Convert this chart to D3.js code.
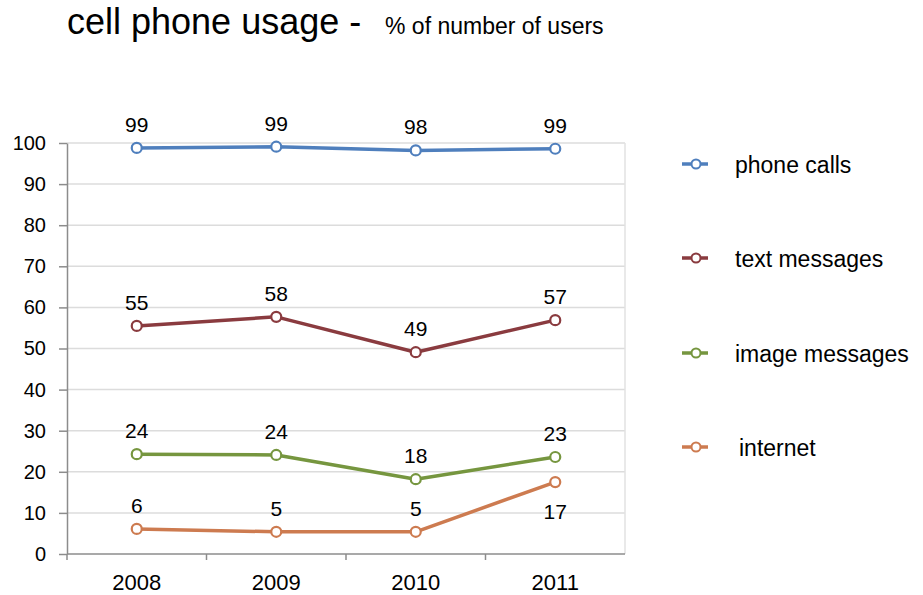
<!DOCTYPE html>
<html>
<head>
<meta charset="utf-8">
<script src="https://cdn.jsdelivr.net/npm/d3@7"></script>
<style>
  body { margin: 0; background: #fff; }
  text { font-family: "Liberation Sans", Arial, Helvetica, sans-serif; }
</style>
</head>
<body>
<svg id="chart" width="923" height="595"></svg>
<script>
// data
let years = ["2008", "2009", "2010", "2011"];
let seriesNames = ["phone calls", "text messages", "image messages", "internet"];
let phoneCalls = [98.8, 99.1, 98.2, 98.6];
let textMessages = [55.5, 57.7, 49.1, 56.9];
let imageMessages = [24.3, 24.1, 18.2, 23.6];
let internet = [6.1, 5.4, 5.4, 17.5];
let phoneLabels = [99, 99, 98, 99];
let textLabels = [55, 58, 49, 57];
let imageLabels = [24, 24, 18, 23];
let internetLabels = [6, 5, 5, 17];
let yTicks = [0, 10, 20, 30, 40, 50, 60, 70, 80, 90, 100];

let colors = ["#4f7fbd", "#8a3b3f", "#76963f", "#cd7b50"];   // blue, dark red, green, orange

let series = [
  {name: seriesNames[0], values: phoneCalls, labels: phoneLabels},
  {name: seriesNames[1], values: textMessages, labels: textLabels},
  {name: seriesNames[2], values: imageMessages, labels: imageLabels},
  {name: seriesNames[3], values: internet, labels: internetLabels}
];

let svg = d3.select("#chart");

// title
svg.append("text")
  .attr("x", 67)
  .attr("y", 34)
  .style("font-size", "36px")
  .attr("fill", "#000")
  .text("cell phone usage -");
svg.append("text")
  .attr("x", 385)
  .attr("y", 34)
  .style("font-size", "23px")
  .attr("fill", "#000")
  .text("% of number of users");

let xScale = d3.scaleBand()
  .domain(years)
  .range([67, 625]);

let yScale = d3.scaleLinear()
  .domain([0, 100])
  .range([554, 143]);

// gridlines
svg.append("g")
  .selectAll("line")
  .data(yTicks.slice(1))
  .join("line")
  .attr("x1", 67)
  .attr("x2", 625)
  .attr("y1", d => yScale(d))
  .attr("y2", d => yScale(d))
  .attr("stroke", "#dcdcdc")
  .attr("stroke-width", 1.5);

// right border of plot
svg.append("line")
  .attr("x1", 625).attr("x2", 625)
  .attr("y1", yScale(100)).attr("y2", yScale(0))
  .attr("stroke", "#e2e2e2")
  .attr("stroke-width", 1.5);

// y axis
let yAxis = svg.append("g")
  .attr("transform", "translate(67,0)")
  .call(d3.axisLeft(yScale)
    .tickValues(yTicks)
    .tickSize(8)
    .tickPadding(13)
    .tickSizeOuter(0));
yAxis.select(".domain").attr("stroke", "#8c8c8c").attr("stroke-width", 1.5);
yAxis.selectAll(".tick line").attr("stroke", "#8c8c8c").attr("stroke-width", 1.5);
yAxis.selectAll(".tick text")
  .style("font-family", "'Liberation Sans', Arial, sans-serif")
  .style("font-size", "20px")
  .attr("fill", "#000");

// x axis: ticks at band boundaries
let xAxis = svg.append("g")
  .attr("transform", "translate(0,554)");
xAxis.append("line")
  .attr("x1", 67).attr("x2", 625)
  .attr("stroke", "#8c8c8c").attr("stroke-width", 1.5);
xAxis.selectAll(".xtick")
  .data(years)
  .join("line")
  .attr("class", "xtick")
  .attr("x1", d => xScale(d))
  .attr("x2", d => xScale(d))
  .attr("y1", 0).attr("y2", 6)
  .attr("stroke", "#8c8c8c").attr("stroke-width", 1.5);
xAxis.selectAll(".xlabel")
  .data(years)
  .join("text")
  .attr("class", "xlabel")
  .attr("x", d => xScale(d) + xScale.bandwidth() / 2)
  .attr("y", 36)
  .attr("text-anchor", "middle")
  .style("font-size", "22px")
  .attr("fill", "#000")
  .text(d => d);

let cx = (d, i) => xScale(years[i]) + xScale.bandwidth() / 2;

let line = d3.line()
  .x((d, i) => cx(d, i))
  .y(d => yScale(d));

// lines, markers, value labels
series.forEach((s, k) => {
  svg.append("path")
    .datum(s.values)
    .attr("d", line)
    .attr("fill", "none")
    .attr("stroke", colors[k])
    .attr("stroke-width", 3.5)
    .attr("stroke-linejoin", "round");

  svg.append("g")
    .selectAll("circle")
    .data(s.values)
    .join("circle")
    .attr("cx", cx)
    .attr("cy", d => yScale(d))
    .attr("r", 5)
    .attr("fill", "#fff")
    .attr("stroke", colors[k])
    .attr("stroke-width", 2.2);

  svg.append("g")
    .selectAll("text")
    .data(s.values)
    .join("text")
    .attr("x", cx)
    // internet 2011 label sits below its point
    .attr("y", (d, i) => (k == 3 && i == 3) ? yScale(d) + 37 : yScale(d) - 16)
    .attr("text-anchor", "middle")
    .style("font-size", "21px")
    .attr("fill", "#000")
    .text((d, i) => s.labels[i]);
});

// legend
let legendY = [164, 258, 353, 447];
let legend = svg.append("g")
  .selectAll("g")
  .data(series)
  .join("g")
  .attr("transform", (d, i) => "translate(682," + legendY[i] + ")");
legend.append("line")
  .attr("x1", 0).attr("x2", 26)
  .attr("stroke", (d, i) => colors[i])
  .attr("stroke-width", 3.5);
legend.append("circle")
  .attr("cx", 14)
  .attr("r", 4.5)
  .attr("fill", "#fff")
  .attr("stroke", (d, i) => colors[i])
  .attr("stroke-width", 2);
legend.append("text")
  .attr("x", (d, i) => i == 3 ? 57 : 53)
  .attr("y", 9)
  .style("font-size", "23px")
  .attr("fill", "#000")
  .text(d => d.name);
</script>
</body>
</html>
